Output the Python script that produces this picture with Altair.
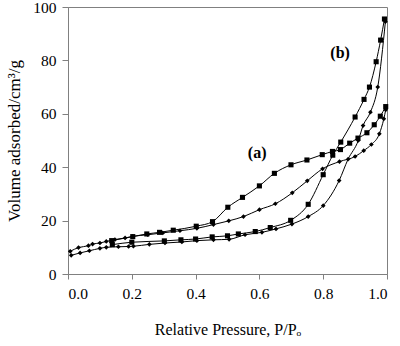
import altair as alt
import pandas as pd

# (a) adsorption branch (diamonds)
a_ads_x = [0.007, 0.033, 0.064, 0.077, 0.100, 0.120, 0.147, 0.179, 0.203, 0.250, 0.297, 0.351, 0.404, 0.456,
           0.504, 0.550, 0.600, 0.650, 0.703, 0.750, 0.798, 0.851, 0.900, 0.927, 0.951, 0.976, 0.990, 0.996]
a_ads_y = [8.5, 9.9, 10.6, 11.2, 11.6, 12.2, 12.9, 13.5, 14.1, 14.7, 15.4, 16.2, 17.1, 18.5,
           19.9, 21.5, 24.1, 26.3, 30.4, 34.9, 39.4, 42.1, 44.0, 46.2, 48.5, 52.5, 58.1, 61.5]
# (a) desorption branch (squares)
a_des_x = [0.996, 0.979, 0.960, 0.937, 0.909, 0.883, 0.854, 0.829, 0.797, 0.749, 0.699, 0.647, 0.600, 0.547,
           0.501, 0.453, 0.402, 0.330, 0.287, 0.247, 0.203, 0.137]
a_des_y = [62.7, 59.1, 55.9, 52.9, 50.9, 49.0, 46.6, 45.9, 44.7, 42.7, 40.9, 37.7, 33.0, 28.7,
           25.0, 19.6, 17.9, 16.4, 15.6, 15.0, 14.0, 12.5]
# (b) adsorption branch (diamonds)
b_ads_x = [0.010, 0.038, 0.067, 0.100, 0.120, 0.158, 0.190, 0.205, 0.255, 0.304, 0.357, 0.404, 0.456, 0.505,
           0.555, 0.608, 0.652, 0.702, 0.753, 0.800, 0.850, 0.878, 0.910, 0.925, 0.948, 0.971, 0.995]
b_ads_y = [7.0, 7.9, 8.7, 9.6, 10.0, 10.2, 10.3, 10.4, 11.1, 11.6, 12.0, 12.5, 12.8, 13.0,
           14.7, 15.6, 16.9, 18.7, 21.5, 25.6, 35.0, 43.0, 50.0, 55.6, 60.6, 70.0, 94.5]
# (b) desorption branch (squares)
b_des_x = [0.992, 0.980, 0.966, 0.945, 0.928, 0.900, 0.855, 0.830, 0.800, 0.753, 0.698, 0.634, 0.587, 0.534,
           0.500, 0.452, 0.400, 0.354, 0.302, 0.200, 0.139]
b_des_y = [95.5, 87.6, 79.5, 70.0, 65.4, 58.8, 49.4, 44.5, 37.2, 26.1, 20.1, 17.4, 15.9, 15.0,
           14.3, 13.9, 13.1, 12.8, 12.4, 11.9, 11.0]

label_text = ["(a)", "(b)"]
label_x = [0.593, 0.853]
label_y = [45.5, 82.6]

rows = []
for name, branch, xs, ys in [("a", "ads", a_ads_x, a_ads_y), ("a", "des", a_des_x, a_des_y),
                             ("b", "ads", b_ads_x, b_ads_y), ("b", "des", b_des_x, b_des_y)]:
    for x, y in zip(xs, ys):
        rows.append({"series": name + "_" + branch, "branch": branch, "p": x, "v": y})
df = pd.DataFrame(rows)
labels = pd.DataFrame({"t": label_text, "p": label_x, "v": label_y})

FONT = "Liberation Serif"

xenc = alt.X("p:Q", scale=alt.Scale(domain=[0, 1], nice=False),
             axis=alt.Axis(title="Relative Pressure, P/Pₒ", values=[0, 0.2, 0.4, 0.6, 0.8, 1.0],
                           format=".1f", grid=False, tickSize=5, labelPadding=7,
                           titlePadding=20, labelFont=FONT, titleFont=FONT,
                           labelFontSize=15.5, titleFontSize=16, titleFontWeight="normal",
                           domainColor="#808080", tickColor="#808080", labelColor="black",
                           titleColor="black"))
yenc = alt.Y("v:Q", scale=alt.Scale(domain=[0, 100], nice=False),
             axis=alt.Axis(title="Volume adsorbed/cm³/g", values=[0, 20, 40, 60, 80, 100],
                           grid=False, tickSize=6, labelPadding=6, titlePadding=9,
                           labelFont=FONT, titleFont=FONT, labelFontSize=15.5, titleFontSize=17,
                           titleFontWeight="normal", domainColor="#808080", tickColor="#808080",
                           labelColor="black", titleColor="black"))

lines = alt.Chart(df).mark_line(color="black", strokeWidth=1, interpolate="monotone").encode(
    x=xenc, y=yenc, detail="series:N", order="p:Q")

pts = alt.Chart(df).mark_point(filled=True, color="black", opacity=1, strokeWidth=0).encode(
    x="p:Q", y="v:Q",
    shape=alt.Shape("branch:N", scale=alt.Scale(domain=["ads", "des"], range=["diamond", "square"]),
                    legend=None),
    size=alt.Size("branch:N", scale=alt.Scale(domain=["ads", "des"], range=[22, 26]), legend=None))

txt = alt.Chart(labels).mark_text(font=FONT, fontSize=16, fontWeight="bold", color="black").encode(
    x="p:Q", y="v:Q", text="t:N")

chart = (lines + pts + txt).properties(
    width=319, height=267, autosize=alt.AutoSizeParams(type="none"),
    padding={"left": 68, "top": 7, "right": 13, "bottom": 72}, background="white"
).configure_view(stroke="#808080", strokeWidth=1)

chart.save("out.html", embed_options={"renderer": "svg", "actions": False})
